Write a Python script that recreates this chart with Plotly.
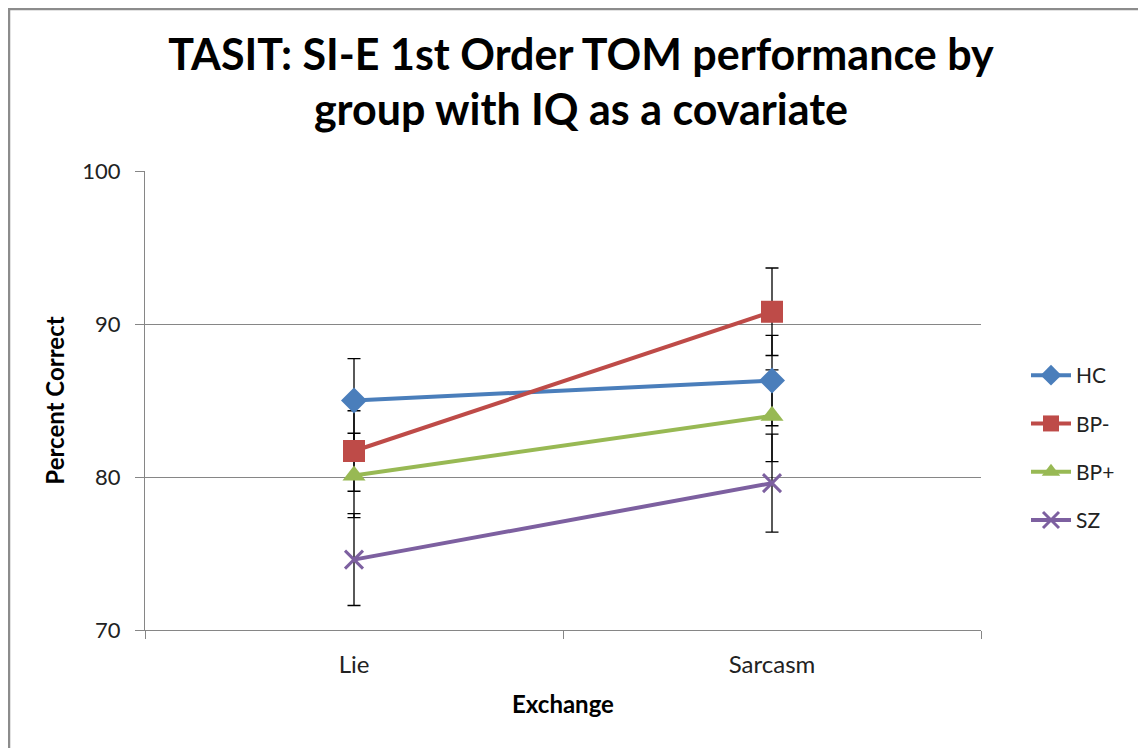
import plotly.graph_objects as go

categories = ["Lie", "Sarcasm"]
groups = ["HC", "BP-", "BP+", "SZ"]
hc = [85.0, 86.3]
bp_minus = [81.7, 90.8]
bp_plus = [80.1, 84.0]
sz = [74.6, 79.6]
hc_err = [2.74, 2.95]
bp_minus_err = [2.63, 2.86]
bp_plus_err = [2.76, 3.0]
sz_err = [3.0, 3.2]
y_ticks = [70, 80, 90, 100]

values = [hc, bp_minus, bp_plus, sz]
errors = [hc_err, bp_minus_err, bp_plus_err, sz_err]
colors = ["#4A7EBB", "#BE4B48", "#98B954", "#7D60A0"]
symbols = ["diamond", "square", "triangle-up", "x-thin"]
sizes = [20, 22, 20, 18]

FONT = "Lato, Calibri, sans-serif"

fig = go.Figure()

# error bars first so markers sit on top
for v, e in zip(values, errors):
    fig.add_trace(go.Scatter(
        x=categories, y=v, mode="markers",
        marker=dict(size=1, opacity=0),
        error_y=dict(type="data", array=e, visible=True, color="#000000",
                     thickness=1.3, width=6.5),
        showlegend=False, hoverinfo="skip"))

for i, (g, v) in enumerate(zip(groups, values)):
    mk = dict(symbol=symbols[i], size=sizes[i], color=colors[i])
    if symbols[i] == "x-thin":
        mk["line"] = dict(color=colors[i], width=3)
    else:
        mk["line"] = dict(width=0)
    fig.add_trace(go.Scatter(
        x=categories, y=v, mode="lines+markers", name=g,
        line=dict(color=colors[i], width=4),
        marker=mk, legendgroup=g))

W, H = 1146, 748
OFF = 8  # page body margin
L, R, T, B = 145 - OFF, 981 - OFF, 171 - OFF, 630 - OFF
pw, ph = R - L, B - T

def px(x):
    return (x - OFF - L) / pw

def py(y):
    return (B - (y - OFF)) / ph

fig.add_shape(type="path",
              path=f"M {px(9)} {py(770)} L {px(9)} {py(9)} L {px(1144)} {py(9)} L {px(1144)} {py(770)}",
              xref="paper", yref="paper", line=dict(color="#8C8C8C", width=2.5))

fig.update_layout(
    width=W, height=H,
    margin=dict(l=L, r=W - R, t=T, b=H - B),
    paper_bgcolor="white", plot_bgcolor="white",
    font=dict(family=FONT, color="#222222"),
    title=dict(text="TASIT: SI-E 1st Order TOM performance by<br>group with IQ as a covariate",
               x=0.5, xanchor="center", y=1 - 61.5 / H, yanchor="middle",
               font=dict(family=FONT, size=43, color="#000000", weight="bold")),
    xaxis=dict(type="category", tickson="boundaries", ticks="outside", ticklen=8,
               tickcolor="#868686", showline=True, linecolor="#868686", linewidth=1,
               showgrid=False, tickfont=dict(size=24, color="#222222"),
               ticklabelstandoff=13,
               title=dict(text="<b>Exchange</b>", font=dict(size=24, color="#000000"), standoff=19),
               range=[-0.5, 1.5]),
    yaxis=dict(range=[70, 100], tickvals=y_ticks, ticks="outside", ticklen=9,
               tickcolor="#868686", showline=True, linecolor="#868686", linewidth=1,
               showgrid=True, gridcolor="#868686", gridwidth=1, zeroline=False,
               tickfont=dict(size=22, color="#222222"), ticklabelstandoff=10,
               title=dict(text="<b>Percent Correct</b>", font=dict(size=24, color="#000000"), standoff=10)),
    legend=dict(x=px(1026), y=py(355), xanchor="left", yanchor="top",
                font=dict(size=21, color="#222222"), tracegroupgap=18,
                bgcolor="rgba(0,0,0,0)", itemwidth=40),
)

fig.write_html("out.html")
